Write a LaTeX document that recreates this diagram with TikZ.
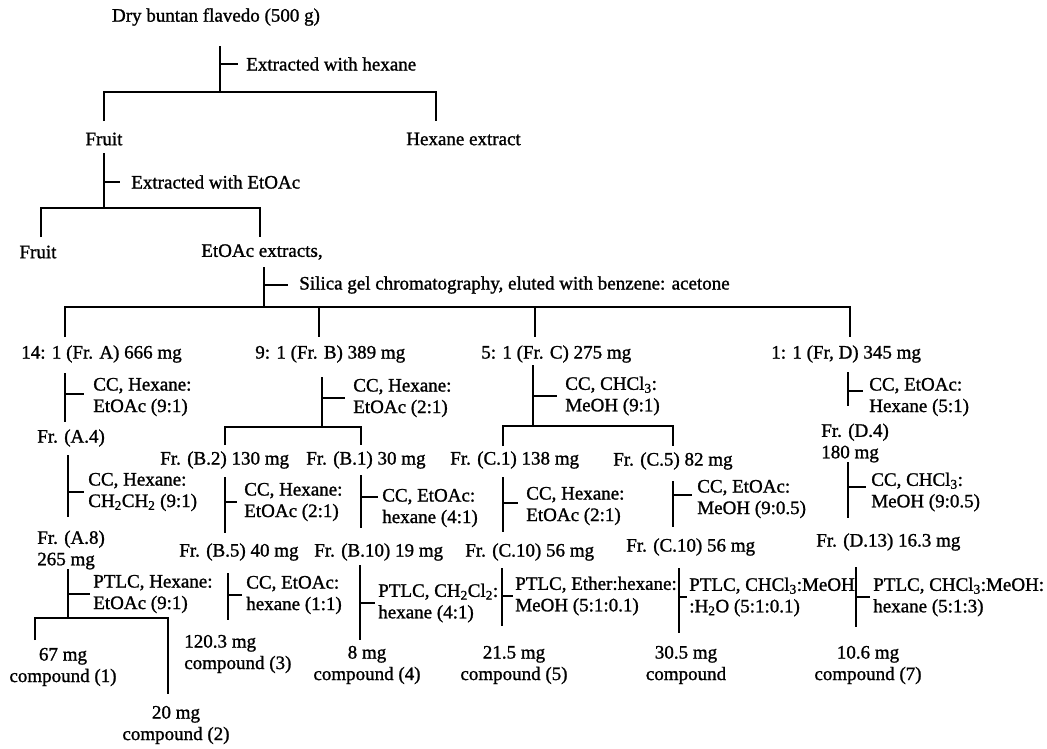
\documentclass[tikz,border=0pt]{standalone}
\usepackage{fontspec}
\setmainfont{Liberation Serif}
\newfontfamily\chartfont{Liberation Serif}[FakeBold=1.2]
\usetikzlibrary{positioning}

\begin{document}
\begin{tikzpicture}[x=1pt,y=-1pt]
        \tikzstyle{every path}=[line width=2.6pt]
        \tikzstyle{every node}=[inner sep=0pt,font=\chartfont\fontsize{19}{21.5}\selectfont]
        \tikzstyle{frac}=[anchor=west]
        \tikzstyle{cond}=[anchor=west,align=left]
        \tikzstyle{yield}=[align=center]

        \useasboundingbox (0,0) rectangle (1047,748);

        % starting material and first extractions
        \node (dry) at (216,17) {Dry buntan flavedo (500 g)};
        \node (fruit1) at (104,139) {Fruit};
        \node[frac] (hex) at (405,139) {Hexane extract};
        \node (fruit2) at (38,252) {Fruit};
        \node (etoac) at (262,252) {EtOAc extracts,};

        % silica gel fractions
        \node[frac] (frA) at (20,354) {14: 1 (Fr. A) 666 mg};
        \node[frac] (frB) at (254,354) {9: 1 (Fr. B) 389 mg};
        \node[frac] (frC) at (480,354) {5: 1 (Fr. C) 275 mg};
        \node[frac] (frD) at (770,354) {1: 1 (Fr, D) 345 mg};

        % sub fractions
        \node[frac] (frA4) at (36,438) {Fr. (A.4)};
        \node[cond] (frA8) at (36,550) {Fr. (A.8)\\265 mg};
        \node[frac] (frB2) at (159,460) {Fr. (B.2) 130 mg};
        \node[frac] (frB1) at (305,460) {Fr. (B.1) 30 mg};
        \node[frac] (frC1) at (449,460) {Fr. (C.1) 138 mg};
        \node[frac] (frC5) at (612,461) {Fr. (C.5) 82 mg};
        \node[cond] (frD4) at (820,443) {Fr. (D.4)\\180 mg};
        \node[frac] (frB5) at (178,552) {Fr. (B.5) 40 mg};
        \node[frac] (frB10) at (313,552) {Fr. (B.10) 19 mg};
        \node[frac] (frC10) at (464,552) {Fr. (C.10) 56 mg};
        \node[frac] (frC10b) at (625,547) {Fr. (C.10) 56 mg};
        \node[frac] (frD13) at (815,542) {Fr. (D.13) 16.3 mg};

        % isolated compounds
        \node[yield] (cp1) at (63,667) {67 mg\\compound (1)};
        \node[yield] (cp2) at (176,725) {20 mg\\compound (2)};
        \node[cond] (cp3) at (183,654) {120.3 mg\\compound (3)};
        \node[yield] (cp4) at (367,665) {8 mg\\compound (4)};
        \node[yield] (cp5) at (514,665) {21.5 mg\\compound (5)};
        \node[yield] (cp6) at (686,665) {30.5 mg\\compound};
        \node[yield] (cp7) at (868,665) {10.6 mg\\compound (7)};

        % separation steps: name/x/top/bottom/tick y/tick end
        \foreach \n/\x/\ya/\yb/\yt/\xt in {s0/220/46/92/64/238, s1/104/153/208/182/120,
            s2/264/267/307/285/288, sA/65/373/422/394/84, sA4/68/455/517/492/84,
            sA8/68/569/618/594/90, sB/322/377/427/398/345, sB2/225/477/533/502/237,
            sB1/361/475/528/497/378, sB5/228/573/620/595/242, sB10/360/565/640/603/375,
            sC/533/365/426/396/557, sC1/503/477/532/503/518, sC5/673/481/527/495/692,
            sC10/502/568/626/596/513, sC10b/679/568/633/597/687,
            sD/848/372/406/391/863, sD4/848/462/518/487/866, sD13/856/567/627/597/870} {
            \coordinate (a\n) at (\x,\ya);
            \coordinate (b\n) at (\x,\yb);
            \coordinate (t\n) at (\xt,\yt);
            \draw (a\n) -- (b\n);
            \draw (t\n -| a\n) -- (t\n);
        }

        % splits: name/step/left x/right x/left end/right end
        \foreach \n/\s/\xl/\xr/\yl/\yr in {k0/s0/104/436/121/121, k1/s1/41/260/237/237,
            k2/s2/65/850/337/337, kB/sB/225/361/445/445, kC/sC/503/673/446/446,
            kA8/sA8/35/168/640/694} {
            \coordinate (l\n) at (\xl,\yl);
            \coordinate (r\n) at (\xr,\yr);
            \draw (l\n) -- (l\n |- b\s) -- (r\n |- b\s) -- (r\n);
        }
        \coordinate (dB) at (319,337);
        \coordinate (dC) at (535,337);
        \draw (dB |- bs2) -- (dB);     % Fr. B
        \draw (dC |- bs2) -- (dC);     % Fr. C

        % conditions
        \node[cond, right=7pt of ts0] (l0) {Extracted with hexane};
        \node[cond, right=10pt of ts1] (l1) {Extracted with EtOAc};
        \node[cond, right=10pt of ts2] (l2) {Silica gel chromatography, eluted with benzene: acetone};
        \node[cond, right=8pt of tsA, yshift=-3pt] (lA) {CC, Hexane:\\EtOAc (9:1)};
        \node[cond, right=3pt of tsA4] (lA4) {CC, Hexane:\\CH\textsubscript{2}CH\textsubscript{2} (9:1)};
        \node[cond, right=2pt of tsA8] (lA8) {PTLC, Hexane:\\EtOAc (9:1)};
        \node[cond, right=7pt of tsB] (lB) {CC, Hexane:\\EtOAc (2:1)};
        \node[cond, right=6pt of tsB2] (lB2) {CC, Hexane:\\EtOAc (2:1)};
        \node[cond, right=3pt of tsB1, yshift=-11pt] (lB1) {CC, EtOAc:\\hexane (4:1)};
        \node[cond, right=3pt of tsB5] (lB5) {CC, EtOAc:\\hexane (1:1)};
        \node[cond, right=2pt of tsB10] (lB10) {PTLC, CH\textsubscript{2}Cl\textsubscript{2}:\\hexane (4:1)};
        \node[cond, right=7pt of tsC] (lC) {CC, CHCl\textsubscript{3}:\\MeOH (9:1)};
        \node[cond, right=7pt of tsC1, yshift=-3pt] (lC1) {CC, Hexane:\\EtOAc (2:1)};
        \node[cond, right=4pt of tsC5, yshift=-4pt] (lC5) {CC, EtOAc:\\MeOH (9:0.5)};
        \node[cond, right=1pt of tsC10] (lC10) {PTLC, Ether:hexane:\\MeOH (5:1:0.1)};
        \node[cond, right=1pt of tsC10b] (lC10b) {PTLC, CHCl\textsubscript{3}:MeOH\\:H\textsubscript{2}O (5:1:0.1)};
        \node[cond, right=5pt of tsD, yshift=-6pt] (lD) {CC, EtOAc:\\Hexane (5:1)};
        \node[cond, right=4pt of tsD4, yshift=-5pt] (lD4) {CC, CHCl\textsubscript{3}:\\MeOH (9:0.5)};
        \node[cond, right=2pt of tsD13] (lD13) {PTLC, CHCl\textsubscript{3}:MeOH:\\hexane (5:1:3)};
\end{tikzpicture}
\end{document}
